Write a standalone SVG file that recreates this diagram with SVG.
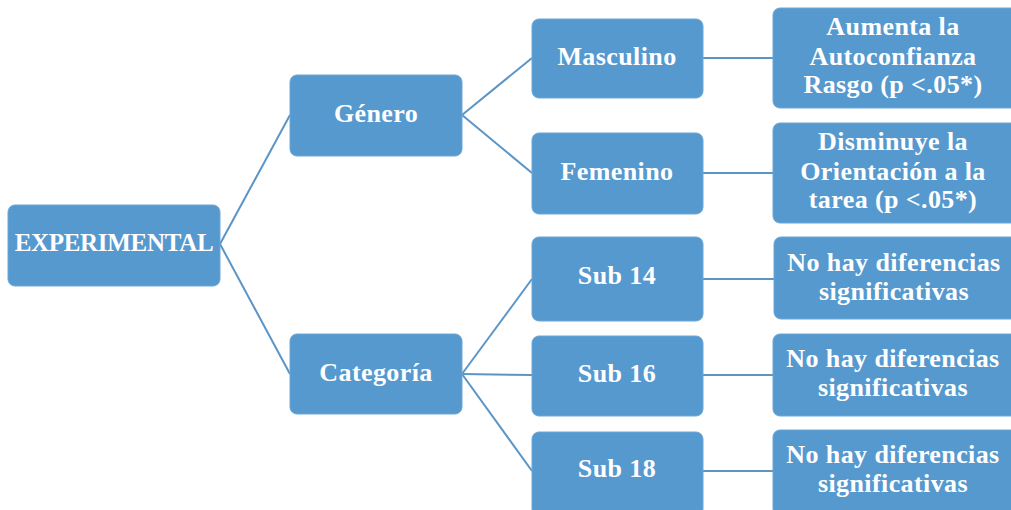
<svg xmlns="http://www.w3.org/2000/svg" width="1011" height="510" viewBox="0 0 1011 510">
  <style>
    .box { fill: #5699cf; stroke: #6aa6d6; stroke-width: 1; }
    .lbl { font-family: "Liberation Serif", "Times New Roman", serif; font-weight: bold; font-size: 26px; fill: #ffffff; text-anchor: middle; letter-spacing: 0.4px; }
    .conn { stroke: #5b95c6; stroke-width: 2; fill: none; }
  </style>
  <rect width="1011" height="510" fill="#ffffff"/>

  <g id="connectors">
    <line class="conn" x1="220" y1="244" x2="290" y2="115"/>
    <line class="conn" x1="220" y1="244" x2="290" y2="374"/>
    <line class="conn" x1="462" y1="115" x2="532" y2="58"/>
    <line class="conn" x1="462" y1="115" x2="532" y2="173"/>
    <line class="conn" x1="462" y1="374" x2="532" y2="279"/>
    <line class="conn" x1="462" y1="374" x2="532" y2="375"/>
    <line class="conn" x1="462" y1="374" x2="532" y2="471"/>
    <line class="conn" x1="703" y1="58" x2="773" y2="58"/>
    <line class="conn" x1="703" y1="173" x2="773" y2="173"/>
    <line class="conn" x1="703" y1="279" x2="774" y2="279"/>
    <line class="conn" x1="703" y1="375" x2="773" y2="375"/>
    <line class="conn" x1="703" y1="471" x2="773" y2="471"/>
  </g>

  <g id="experimental">
    <rect class="box" x="8" y="205" width="212" height="81" rx="7"/>
    <text class="lbl" x="114" y="251" style="font-size:25px;letter-spacing:-0.3px">EXPERIMENTAL</text>
  </g>

  <g id="genero">
    <rect class="box" x="290" y="75" width="172" height="81" rx="7"/>
    <text class="lbl" x="376" y="122">Género</text>
  </g>

  <g id="categoria">
    <rect class="box" x="290" y="334" width="172" height="80" rx="7"/>
    <text class="lbl" x="376" y="381">Categoría</text>
  </g>

  <g id="masculino">
    <rect class="box" x="532" y="19" width="171" height="79" rx="7"/>
    <text class="lbl" x="617" y="65">Masculino</text>
  </g>

  <g id="femenino">
    <rect class="box" x="532" y="133" width="171" height="81" rx="7"/>
    <text class="lbl" x="617" y="180">Femenino</text>
  </g>

  <g id="sub14">
    <rect class="box" x="532" y="237" width="171" height="84" rx="7"/>
    <text class="lbl" x="617" y="284">Sub 14</text>
  </g>

  <g id="sub16">
    <rect class="box" x="532" y="336" width="171" height="80" rx="7"/>
    <text class="lbl" x="617" y="382">Sub 16</text>
  </g>

  <g id="sub18">
    <rect class="box" x="532" y="432" width="171" height="84" rx="7"/>
    <text class="lbl" x="617" y="477">Sub 18</text>
  </g>

  <g id="resultado-masculino">
    <rect class="box" x="773" y="8" width="245" height="100" rx="7"/>
    <text class="lbl" x="893" y="35">Aumenta la</text>
    <text class="lbl" x="893" y="65">Autoconfianza</text>
    <text class="lbl" x="893" y="93">Rasgo (p &lt;.05*)</text>
  </g>

  <g id="resultado-femenino">
    <rect class="box" x="773" y="123" width="245" height="100" rx="7"/>
    <text class="lbl" x="893" y="150">Disminuye la</text>
    <text class="lbl" x="893" y="180">Orientación a la</text>
    <text class="lbl" x="893" y="208">tarea (p &lt;.05*)</text>
  </g>

  <g id="resultado-sub14">
    <rect class="box" x="774" y="237" width="245" height="82" rx="7"/>
    <text class="lbl" x="894" y="271">No hay diferencias</text>
    <text class="lbl" x="894" y="300">significativas</text>
  </g>

  <g id="resultado-sub16">
    <rect class="box" x="773" y="334" width="245" height="82" rx="7"/>
    <text class="lbl" x="893" y="367">No hay diferencias</text>
    <text class="lbl" x="893" y="396">significativas</text>
  </g>

  <g id="resultado-sub18">
    <rect class="box" x="773" y="430" width="245" height="86" rx="7"/>
    <text class="lbl" x="893" y="463">No hay diferencias</text>
    <text class="lbl" x="893" y="492">significativas</text>
  </g>
</svg>
